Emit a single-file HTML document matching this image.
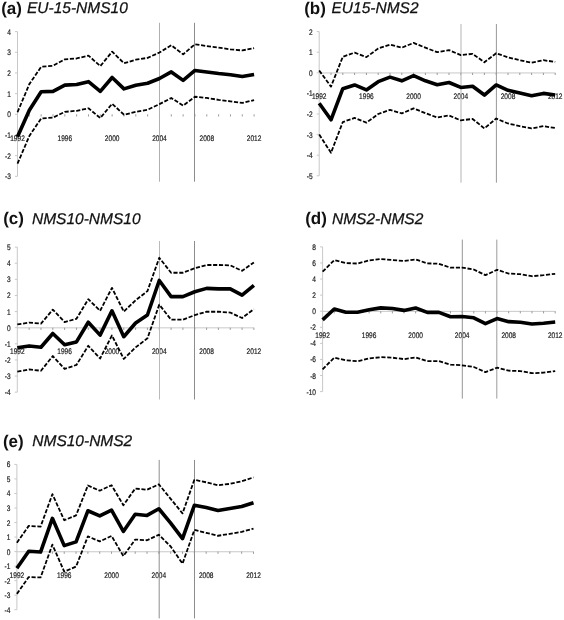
<!DOCTYPE html>
<html><head><meta charset="utf-8"><title>Figure</title>
<style>
html,body{margin:0;padding:0;background:#fff;}
body{width:564px;height:620px;overflow:hidden;}
svg{display:block;filter:grayscale(1) blur(0.35px);}
text{font-family:"Liberation Sans", sans-serif;text-rendering:geometricPrecision;}
.tl{font-size:17.0px;font-weight:bold;fill:#111;}
.tn{font-size:15.5px;font-style:italic;fill:#111;stroke:#111;stroke-width:0.25px;}
.yl{font-size:8.1px;fill:#1a1a1a;stroke:#1a1a1a;stroke-width:0.2px;text-anchor:end;}
.xl{font-size:8.1px;fill:#1a1a1a;stroke:#1a1a1a;stroke-width:0.2px;text-anchor:middle;}
.ax{stroke:#c8c8c8;stroke-width:1;fill:none;}
.tk{stroke:#9a9a9a;stroke-width:1;fill:none;}
.sl{fill:none;stroke:#000;stroke-width:3.6;stroke-linejoin:round;}
.ds{fill:none;stroke:#000;stroke-width:1.8;stroke-dasharray:4.15 1.7;stroke-linejoin:round;}
</style></head>
<body>
<svg width="564" height="620" viewBox="0 0 564 620">
<rect width="564" height="620" fill="#fff"/>
<text x="1.2" y="13.6" class="tl">(a)</text>
<text x="27" y="13.2" class="tn">EU-15-NMS10</text>
<line x1="17.5" y1="31.62" x2="17.5" y2="176.31" class="ax"/>
<line x1="15" y1="31.62" x2="17.5" y2="31.62" class="ax"/>
<text transform="translate(10.9,34.62) scale(0.81,1)" class="yl">4</text>
<line x1="15" y1="52.29" x2="17.5" y2="52.29" class="ax"/>
<text transform="translate(10.9,55.29) scale(0.81,1)" class="yl">3</text>
<line x1="15" y1="72.96" x2="17.5" y2="72.96" class="ax"/>
<text transform="translate(10.9,75.96) scale(0.81,1)" class="yl">2</text>
<line x1="15" y1="93.63" x2="17.5" y2="93.63" class="ax"/>
<text transform="translate(10.9,96.63) scale(0.81,1)" class="yl">1</text>
<line x1="15" y1="114.3" x2="17.5" y2="114.3" class="ax"/>
<text transform="translate(10.9,117.3) scale(0.81,1)" class="yl">0</text>
<line x1="15" y1="134.97" x2="17.5" y2="134.97" class="ax"/>
<text transform="translate(10.9,137.97) scale(0.81,1)" class="yl">-1</text>
<line x1="15" y1="155.64" x2="17.5" y2="155.64" class="ax"/>
<text transform="translate(10.9,158.64) scale(0.81,1)" class="yl">-2</text>
<line x1="15" y1="176.31" x2="17.5" y2="176.31" class="ax"/>
<text transform="translate(10.9,179.31) scale(0.81,1)" class="yl">-3</text>
<line x1="29.33" y1="114.3" x2="29.33" y2="116.5" class="tk"/>
<line x1="41.16" y1="114.3" x2="41.16" y2="116.5" class="tk"/>
<line x1="52.99" y1="114.3" x2="52.99" y2="116.5" class="tk"/>
<line x1="64.82" y1="114.3" x2="64.82" y2="116.5" class="tk"/>
<line x1="76.65" y1="114.3" x2="76.65" y2="116.5" class="tk"/>
<line x1="88.48" y1="114.3" x2="88.48" y2="116.5" class="tk"/>
<line x1="100.31" y1="114.3" x2="100.31" y2="116.5" class="tk"/>
<line x1="112.14" y1="114.3" x2="112.14" y2="116.5" class="tk"/>
<line x1="123.97" y1="114.3" x2="123.97" y2="116.5" class="tk"/>
<line x1="135.8" y1="114.3" x2="135.8" y2="116.5" class="tk"/>
<line x1="147.63" y1="114.3" x2="147.63" y2="116.5" class="tk"/>
<line x1="159.46" y1="114.3" x2="159.46" y2="116.5" class="tk"/>
<line x1="171.29" y1="114.3" x2="171.29" y2="116.5" class="tk"/>
<line x1="183.12" y1="114.3" x2="183.12" y2="116.5" class="tk"/>
<line x1="194.95" y1="114.3" x2="194.95" y2="116.5" class="tk"/>
<line x1="206.78" y1="114.3" x2="206.78" y2="116.5" class="tk"/>
<line x1="218.61" y1="114.3" x2="218.61" y2="116.5" class="tk"/>
<line x1="230.44" y1="114.3" x2="230.44" y2="116.5" class="tk"/>
<line x1="242.27" y1="114.3" x2="242.27" y2="116.5" class="tk"/>
<line x1="254.1" y1="114.3" x2="254.1" y2="116.5" class="tk"/>
<text transform="translate(17.5,140.9) scale(0.81,1)" class="xl">1992</text>
<text transform="translate(64.82,140.9) scale(0.81,1)" class="xl">1996</text>
<text transform="translate(112.14,140.9) scale(0.81,1)" class="xl">2000</text>
<text transform="translate(159.46,140.9) scale(0.81,1)" class="xl">2004</text>
<text transform="translate(206.78,140.9) scale(0.81,1)" class="xl">2008</text>
<text transform="translate(254.1,140.9) scale(0.81,1)" class="xl">2012</text>
<line x1="159.5" y1="22.8" x2="159.5" y2="181.7" stroke="#b0b0b0" stroke-width="1"/>
<line x1="194.5" y1="22.8" x2="194.5" y2="181.7" stroke="#8c8c8c" stroke-width="1"/>
<polyline points="17.5,112.23 29.33,84.12 41.16,66.76 52.99,65.73 64.82,59.32 76.65,58.49 88.48,55.6 100.31,66.14 112.14,51.67 123.97,63.25 135.8,59.73 147.63,57.87 159.46,52.5 171.29,45.26 183.12,54.36 194.95,44.23 206.78,46.09 218.61,47.54 230.44,49.4 242.27,50.43 254.1,48.16" class="ds"/>
<polyline points="17.5,163.7 29.33,136 41.16,118.43 52.99,117.61 64.82,111.82 76.65,110.79 88.48,108.31 100.31,118.02 112.14,103.76 123.97,114.71 135.8,111.82 147.63,109.75 159.46,104.17 171.29,97.97 183.12,105.62 194.95,96.73 206.78,97.97 218.61,99.83 230.44,101.28 242.27,102.93 254.1,100.04" class="ds"/>
<polyline points="17.5,136.83 29.33,110.17 41.16,91.77 52.99,91.36 64.82,85.16 76.65,84.54 88.48,81.64 100.31,91.36 112.14,77.51 123.97,88.88 135.8,85.16 147.63,83.29 159.46,78.54 171.29,71.93 183.12,80.4 194.95,70.48 206.78,71.93 218.61,73.58 230.44,74.82 242.27,76.47 254.1,74.41" class="sl"/>
<text x="304.2" y="13.6" class="tl">(b)</text>
<text x="331.5" y="13.2" class="tn">EU15-NMS2</text>
<line x1="319.2" y1="31.6" x2="319.2" y2="175.8" class="ax"/>
<line x1="316.7" y1="31.6" x2="319.2" y2="31.6" class="ax"/>
<text transform="translate(312.6,34.6) scale(0.81,1)" class="yl">2</text>
<line x1="316.7" y1="52.2" x2="319.2" y2="52.2" class="ax"/>
<text transform="translate(312.6,55.2) scale(0.81,1)" class="yl">1</text>
<line x1="316.7" y1="72.8" x2="319.2" y2="72.8" class="ax"/>
<text transform="translate(312.6,75.8) scale(0.81,1)" class="yl">0</text>
<line x1="316.7" y1="93.4" x2="319.2" y2="93.4" class="ax"/>
<text transform="translate(312.6,96.4) scale(0.81,1)" class="yl">-1</text>
<line x1="316.7" y1="114" x2="319.2" y2="114" class="ax"/>
<text transform="translate(312.6,117) scale(0.81,1)" class="yl">-2</text>
<line x1="316.7" y1="134.6" x2="319.2" y2="134.6" class="ax"/>
<text transform="translate(312.6,137.6) scale(0.81,1)" class="yl">-3</text>
<line x1="316.7" y1="155.2" x2="319.2" y2="155.2" class="ax"/>
<text transform="translate(312.6,158.2) scale(0.81,1)" class="yl">-4</text>
<line x1="316.7" y1="175.8" x2="319.2" y2="175.8" class="ax"/>
<text transform="translate(312.6,178.8) scale(0.81,1)" class="yl">-5</text>
<line x1="319.2" y1="72.95" x2="555.2" y2="72.95" class="ax" stroke-width="1.3"/>
<line x1="331" y1="72.8" x2="331" y2="75" class="tk"/>
<line x1="342.8" y1="72.8" x2="342.8" y2="75" class="tk"/>
<line x1="354.6" y1="72.8" x2="354.6" y2="75" class="tk"/>
<line x1="366.4" y1="72.8" x2="366.4" y2="75" class="tk"/>
<line x1="378.2" y1="72.8" x2="378.2" y2="75" class="tk"/>
<line x1="390" y1="72.8" x2="390" y2="75" class="tk"/>
<line x1="401.8" y1="72.8" x2="401.8" y2="75" class="tk"/>
<line x1="413.6" y1="72.8" x2="413.6" y2="75" class="tk"/>
<line x1="425.4" y1="72.8" x2="425.4" y2="75" class="tk"/>
<line x1="437.2" y1="72.8" x2="437.2" y2="75" class="tk"/>
<line x1="449" y1="72.8" x2="449" y2="75" class="tk"/>
<line x1="460.8" y1="72.8" x2="460.8" y2="75" class="tk"/>
<line x1="472.6" y1="72.8" x2="472.6" y2="75" class="tk"/>
<line x1="484.4" y1="72.8" x2="484.4" y2="75" class="tk"/>
<line x1="496.2" y1="72.8" x2="496.2" y2="75" class="tk"/>
<line x1="508" y1="72.8" x2="508" y2="75" class="tk"/>
<line x1="519.8" y1="72.8" x2="519.8" y2="75" class="tk"/>
<line x1="531.6" y1="72.8" x2="531.6" y2="75" class="tk"/>
<line x1="543.4" y1="72.8" x2="543.4" y2="75" class="tk"/>
<line x1="555.2" y1="72.8" x2="555.2" y2="75" class="tk"/>
<text transform="translate(319.2,98.5) scale(0.81,1)" class="xl">1992</text>
<text transform="translate(366.4,98.5) scale(0.81,1)" class="xl">1996</text>
<text transform="translate(413.6,98.5) scale(0.81,1)" class="xl">2000</text>
<text transform="translate(460.8,98.5) scale(0.81,1)" class="xl">2004</text>
<text transform="translate(508,98.5) scale(0.81,1)" class="xl">2008</text>
<text transform="translate(555.2,98.5) scale(0.81,1)" class="xl">2012</text>
<line x1="461" y1="24" x2="461" y2="182.7" stroke="#b4b4b4" stroke-width="1"/>
<line x1="496.4" y1="24" x2="496.4" y2="182.7" stroke="#999" stroke-width="1"/>
<polyline points="319.2,70.53 331,86.6 342.8,56.73 354.6,52.61 366.4,57.14 378.2,48.49 390,44.58 401.8,47.67 413.6,42.93 425.4,47.67 437.2,52.2 449,50.14 460.8,55.08 472.6,53.85 484.4,62.29 496.2,53.23 508,57.35 519.8,60.23 531.6,62.71 543.4,60.23 555.2,61.88" class="ds"/>
<polyline points="319.2,134.6 331,152.73 342.8,122.03 354.6,117.91 366.4,122.65 378.2,114 390,109.88 401.8,113.38 413.6,108.44 425.4,113.18 437.2,117.5 449,115.44 460.8,120.39 472.6,118.94 484.4,128.42 496.2,118.53 508,123.48 519.8,126.15 531.6,128.42 543.4,126.15 555.2,128.01" class="ds"/>
<polyline points="319.2,103.29 331,119.77 342.8,88.66 354.6,84.95 366.4,89.9 378.2,81.66 390,77.13 401.8,80.83 413.6,75.68 425.4,80.83 437.2,84.75 449,82.48 460.8,87.43 472.6,86.19 484.4,95.05 496.2,84.95 508,90.31 519.8,92.99 531.6,95.67 543.4,93.4 555.2,95.05" class="sl"/>
<text x="3.2" y="223.9" class="tl">(c)</text>
<text x="32" y="223.5" class="tn">NMS10-NMS10</text>
<line x1="17.3" y1="247.1" x2="17.3" y2="392.18" class="ax"/>
<line x1="14.8" y1="247.1" x2="17.3" y2="247.1" class="ax"/>
<text transform="translate(10.7,250.1) scale(0.81,1)" class="yl">5</text>
<line x1="14.8" y1="263.22" x2="17.3" y2="263.22" class="ax"/>
<text transform="translate(10.7,266.22) scale(0.81,1)" class="yl">4</text>
<line x1="14.8" y1="279.34" x2="17.3" y2="279.34" class="ax"/>
<text transform="translate(10.7,282.34) scale(0.81,1)" class="yl">3</text>
<line x1="14.8" y1="295.46" x2="17.3" y2="295.46" class="ax"/>
<text transform="translate(10.7,298.46) scale(0.81,1)" class="yl">2</text>
<line x1="14.8" y1="311.58" x2="17.3" y2="311.58" class="ax"/>
<text transform="translate(10.7,314.58) scale(0.81,1)" class="yl">1</text>
<line x1="14.8" y1="327.7" x2="17.3" y2="327.7" class="ax"/>
<text transform="translate(10.7,330.7) scale(0.81,1)" class="yl">0</text>
<line x1="14.8" y1="343.82" x2="17.3" y2="343.82" class="ax"/>
<text transform="translate(10.7,346.82) scale(0.81,1)" class="yl">-1</text>
<line x1="14.8" y1="359.94" x2="17.3" y2="359.94" class="ax"/>
<text transform="translate(10.7,362.94) scale(0.81,1)" class="yl">-2</text>
<line x1="14.8" y1="376.06" x2="17.3" y2="376.06" class="ax"/>
<text transform="translate(10.7,379.06) scale(0.81,1)" class="yl">-3</text>
<line x1="14.8" y1="392.18" x2="17.3" y2="392.18" class="ax"/>
<text transform="translate(10.7,395.18) scale(0.81,1)" class="yl">-4</text>
<line x1="17.3" y1="327.85" x2="253.9" y2="327.85" class="ax" stroke-width="1.3"/>
<line x1="29.13" y1="327.7" x2="29.13" y2="329.9" class="tk"/>
<line x1="40.96" y1="327.7" x2="40.96" y2="329.9" class="tk"/>
<line x1="52.79" y1="327.7" x2="52.79" y2="329.9" class="tk"/>
<line x1="64.62" y1="327.7" x2="64.62" y2="329.9" class="tk"/>
<line x1="76.45" y1="327.7" x2="76.45" y2="329.9" class="tk"/>
<line x1="88.28" y1="327.7" x2="88.28" y2="329.9" class="tk"/>
<line x1="100.11" y1="327.7" x2="100.11" y2="329.9" class="tk"/>
<line x1="111.94" y1="327.7" x2="111.94" y2="329.9" class="tk"/>
<line x1="123.77" y1="327.7" x2="123.77" y2="329.9" class="tk"/>
<line x1="135.6" y1="327.7" x2="135.6" y2="329.9" class="tk"/>
<line x1="147.43" y1="327.7" x2="147.43" y2="329.9" class="tk"/>
<line x1="159.26" y1="327.7" x2="159.26" y2="329.9" class="tk"/>
<line x1="171.09" y1="327.7" x2="171.09" y2="329.9" class="tk"/>
<line x1="182.92" y1="327.7" x2="182.92" y2="329.9" class="tk"/>
<line x1="194.75" y1="327.7" x2="194.75" y2="329.9" class="tk"/>
<line x1="206.58" y1="327.7" x2="206.58" y2="329.9" class="tk"/>
<line x1="218.41" y1="327.7" x2="218.41" y2="329.9" class="tk"/>
<line x1="230.24" y1="327.7" x2="230.24" y2="329.9" class="tk"/>
<line x1="242.07" y1="327.7" x2="242.07" y2="329.9" class="tk"/>
<line x1="253.9" y1="327.7" x2="253.9" y2="329.9" class="tk"/>
<text transform="translate(17.3,354) scale(0.81,1)" class="xl">1992</text>
<text transform="translate(64.62,354) scale(0.81,1)" class="xl">1996</text>
<text transform="translate(111.94,354) scale(0.81,1)" class="xl">2000</text>
<text transform="translate(159.26,354) scale(0.81,1)" class="xl">2004</text>
<text transform="translate(206.58,354) scale(0.81,1)" class="xl">2008</text>
<text transform="translate(253.9,354) scale(0.81,1)" class="xl">2012</text>
<line x1="159.5" y1="241" x2="159.5" y2="399.5" stroke="#bababa" stroke-width="1"/>
<line x1="194.5" y1="241" x2="194.5" y2="399.5" stroke="#8c8c8c" stroke-width="1"/>
<polyline points="17.3,324.48 29.13,322.54 40.96,323.67 52.79,309.65 64.62,322.06 76.45,318.83 88.28,299.17 100.11,310.77 111.94,287.88 123.77,311.58 135.6,300.3 147.43,291.11 159.26,257.74 171.09,272.73 182.92,272.73 194.75,268.22 206.58,264.99 218.41,264.99 230.24,265.32 242.07,270.8 253.9,262.41" class="ds"/>
<polyline points="17.3,371.55 29.13,369.45 40.96,370.74 52.79,356.07 64.62,368.97 76.45,364.94 88.28,345.75 100.11,358.49 111.94,335.44 123.77,358.97 135.6,347.37 147.43,338.34 159.26,304.65 171.09,319.64 182.92,319.64 194.75,315.13 206.58,311.74 218.41,311.74 230.24,312.55 242.07,318.03 253.9,309.16" class="ds"/>
<polyline points="17.3,347.69 29.13,345.92 40.96,347.21 52.79,333.5 64.62,344.79 76.45,341.89 88.28,322.22 100.11,335.12 111.94,310.77 123.77,336.73 135.6,323.03 147.43,314.97 159.26,280.47 171.09,296.59 182.92,296.59 194.75,291.75 206.58,288.37 218.41,288.85 230.24,288.85 242.07,295.14 253.9,285.3" class="sl"/>
<text x="305.2" y="223.9" class="tl">(d)</text>
<text x="332" y="223.5" class="tn">NMS2-NMS2</text>
<line x1="322.6" y1="246.88" x2="322.6" y2="391.6" class="ax"/>
<line x1="320.1" y1="246.88" x2="322.6" y2="246.88" class="ax"/>
<text transform="translate(316,249.88) scale(0.81,1)" class="yl">8</text>
<line x1="320.1" y1="262.96" x2="322.6" y2="262.96" class="ax"/>
<text transform="translate(316,265.96) scale(0.81,1)" class="yl">6</text>
<line x1="320.1" y1="279.04" x2="322.6" y2="279.04" class="ax"/>
<text transform="translate(316,282.04) scale(0.81,1)" class="yl">4</text>
<line x1="320.1" y1="295.12" x2="322.6" y2="295.12" class="ax"/>
<text transform="translate(316,298.12) scale(0.81,1)" class="yl">2</text>
<line x1="320.1" y1="311.2" x2="322.6" y2="311.2" class="ax"/>
<text transform="translate(316,314.2) scale(0.81,1)" class="yl">0</text>
<line x1="320.1" y1="327.28" x2="322.6" y2="327.28" class="ax"/>
<text transform="translate(316,330.28) scale(0.81,1)" class="yl">-2</text>
<line x1="320.1" y1="343.36" x2="322.6" y2="343.36" class="ax"/>
<text transform="translate(316,346.36) scale(0.81,1)" class="yl">-4</text>
<line x1="320.1" y1="359.44" x2="322.6" y2="359.44" class="ax"/>
<text transform="translate(316,362.44) scale(0.81,1)" class="yl">-6</text>
<line x1="320.1" y1="375.52" x2="322.6" y2="375.52" class="ax"/>
<text transform="translate(316,378.52) scale(0.81,1)" class="yl">-8</text>
<line x1="320.1" y1="391.6" x2="322.6" y2="391.6" class="ax"/>
<text transform="translate(316,394.6) scale(0.81,1)" class="yl">-10</text>
<line x1="322.6" y1="311.35" x2="555.2" y2="311.35" class="ax" stroke-width="1.3"/>
<line x1="334.23" y1="311.2" x2="334.23" y2="313.4" class="tk"/>
<line x1="345.86" y1="311.2" x2="345.86" y2="313.4" class="tk"/>
<line x1="357.49" y1="311.2" x2="357.49" y2="313.4" class="tk"/>
<line x1="369.12" y1="311.2" x2="369.12" y2="313.4" class="tk"/>
<line x1="380.75" y1="311.2" x2="380.75" y2="313.4" class="tk"/>
<line x1="392.38" y1="311.2" x2="392.38" y2="313.4" class="tk"/>
<line x1="404.01" y1="311.2" x2="404.01" y2="313.4" class="tk"/>
<line x1="415.64" y1="311.2" x2="415.64" y2="313.4" class="tk"/>
<line x1="427.27" y1="311.2" x2="427.27" y2="313.4" class="tk"/>
<line x1="438.9" y1="311.2" x2="438.9" y2="313.4" class="tk"/>
<line x1="450.53" y1="311.2" x2="450.53" y2="313.4" class="tk"/>
<line x1="462.16" y1="311.2" x2="462.16" y2="313.4" class="tk"/>
<line x1="473.79" y1="311.2" x2="473.79" y2="313.4" class="tk"/>
<line x1="485.42" y1="311.2" x2="485.42" y2="313.4" class="tk"/>
<line x1="497.05" y1="311.2" x2="497.05" y2="313.4" class="tk"/>
<line x1="508.68" y1="311.2" x2="508.68" y2="313.4" class="tk"/>
<line x1="520.31" y1="311.2" x2="520.31" y2="313.4" class="tk"/>
<line x1="531.94" y1="311.2" x2="531.94" y2="313.4" class="tk"/>
<line x1="543.57" y1="311.2" x2="543.57" y2="313.4" class="tk"/>
<line x1="555.2" y1="311.2" x2="555.2" y2="313.4" class="tk"/>
<text transform="translate(322.6,338) scale(0.81,1)" class="xl">1992</text>
<text transform="translate(369.12,338) scale(0.81,1)" class="xl">1996</text>
<text transform="translate(415.64,338) scale(0.81,1)" class="xl">2000</text>
<text transform="translate(462.16,338) scale(0.81,1)" class="xl">2004</text>
<text transform="translate(508.68,338) scale(0.81,1)" class="xl">2008</text>
<text transform="translate(555.2,338) scale(0.81,1)" class="xl">2012</text>
<line x1="462.3" y1="239.6" x2="462.3" y2="398.6" stroke="#959595" stroke-width="1"/>
<line x1="496.8" y1="239.6" x2="496.8" y2="398.6" stroke="#9c9c9c" stroke-width="1"/>
<polyline points="322.6,271.72 334.23,260.15 345.86,263.04 357.49,263.52 369.12,260.39 380.75,259.02 392.38,260.07 404.01,261.03 415.64,259.42 427.27,263.36 438.9,263.76 450.53,267.7 462.16,267.62 473.79,269.55 485.42,275.18 497.05,269.79 508.68,273.57 520.31,274.22 531.94,276.23 543.57,275.18 555.2,273.81" class="ds"/>
<polyline points="322.6,369.33 334.23,357.67 345.86,360.24 357.49,361.29 369.12,358.48 380.75,357.19 392.38,357.67 404.01,359.12 415.64,357.35 427.27,361.13 438.9,361.13 450.53,364.67 462.16,365.31 473.79,367 485.42,372.14 497.05,367.72 508.68,370.7 520.31,371.1 531.94,373.19 543.57,372.63 555.2,371.1" class="ds"/>
<polyline points="322.6,319.88 334.23,309.03 345.86,312.25 357.49,312.25 369.12,309.75 380.75,307.9 392.38,308.47 404.01,310.4 415.64,308.06 427.27,312.41 438.9,312.41 450.53,316.75 462.16,316.51 473.79,317.79 485.42,323.66 497.05,318.6 508.68,321.65 520.31,322.21 531.94,324.06 543.57,323.18 555.2,321.97" class="sl"/>
<text x="2.9" y="446.8" class="tl">(e)</text>
<text x="32.3" y="446.4" class="tn">NMS10-NMS2</text>
<line x1="16.9" y1="464.42" x2="16.9" y2="609.72" class="ax"/>
<line x1="14.4" y1="464.42" x2="16.9" y2="464.42" class="ax"/>
<text transform="translate(10.3,467.42) scale(0.81,1)" class="yl">6</text>
<line x1="14.4" y1="478.95" x2="16.9" y2="478.95" class="ax"/>
<text transform="translate(10.3,481.95) scale(0.81,1)" class="yl">5</text>
<line x1="14.4" y1="493.48" x2="16.9" y2="493.48" class="ax"/>
<text transform="translate(10.3,496.48) scale(0.81,1)" class="yl">4</text>
<line x1="14.4" y1="508.01" x2="16.9" y2="508.01" class="ax"/>
<text transform="translate(10.3,511.01) scale(0.81,1)" class="yl">3</text>
<line x1="14.4" y1="522.54" x2="16.9" y2="522.54" class="ax"/>
<text transform="translate(10.3,525.54) scale(0.81,1)" class="yl">2</text>
<line x1="14.4" y1="537.07" x2="16.9" y2="537.07" class="ax"/>
<text transform="translate(10.3,540.07) scale(0.81,1)" class="yl">1</text>
<line x1="14.4" y1="551.6" x2="16.9" y2="551.6" class="ax"/>
<text transform="translate(10.3,554.6) scale(0.81,1)" class="yl">0</text>
<line x1="14.4" y1="566.13" x2="16.9" y2="566.13" class="ax"/>
<text transform="translate(10.3,569.13) scale(0.81,1)" class="yl">-1</text>
<line x1="14.4" y1="580.66" x2="16.9" y2="580.66" class="ax"/>
<text transform="translate(10.3,583.66) scale(0.81,1)" class="yl">-2</text>
<line x1="14.4" y1="595.19" x2="16.9" y2="595.19" class="ax"/>
<text transform="translate(10.3,598.19) scale(0.81,1)" class="yl">-3</text>
<line x1="14.4" y1="609.72" x2="16.9" y2="609.72" class="ax"/>
<text transform="translate(10.3,612.72) scale(0.81,1)" class="yl">-4</text>
<line x1="16.9" y1="551.75" x2="253.5" y2="551.75" class="ax" stroke-width="1.3"/>
<line x1="28.73" y1="551.6" x2="28.73" y2="553.8" class="tk"/>
<line x1="40.56" y1="551.6" x2="40.56" y2="553.8" class="tk"/>
<line x1="52.39" y1="551.6" x2="52.39" y2="553.8" class="tk"/>
<line x1="64.22" y1="551.6" x2="64.22" y2="553.8" class="tk"/>
<line x1="76.05" y1="551.6" x2="76.05" y2="553.8" class="tk"/>
<line x1="87.88" y1="551.6" x2="87.88" y2="553.8" class="tk"/>
<line x1="99.71" y1="551.6" x2="99.71" y2="553.8" class="tk"/>
<line x1="111.54" y1="551.6" x2="111.54" y2="553.8" class="tk"/>
<line x1="123.37" y1="551.6" x2="123.37" y2="553.8" class="tk"/>
<line x1="135.2" y1="551.6" x2="135.2" y2="553.8" class="tk"/>
<line x1="147.03" y1="551.6" x2="147.03" y2="553.8" class="tk"/>
<line x1="158.86" y1="551.6" x2="158.86" y2="553.8" class="tk"/>
<line x1="170.69" y1="551.6" x2="170.69" y2="553.8" class="tk"/>
<line x1="182.52" y1="551.6" x2="182.52" y2="553.8" class="tk"/>
<line x1="194.35" y1="551.6" x2="194.35" y2="553.8" class="tk"/>
<line x1="206.18" y1="551.6" x2="206.18" y2="553.8" class="tk"/>
<line x1="218.01" y1="551.6" x2="218.01" y2="553.8" class="tk"/>
<line x1="229.84" y1="551.6" x2="229.84" y2="553.8" class="tk"/>
<line x1="241.67" y1="551.6" x2="241.67" y2="553.8" class="tk"/>
<line x1="253.5" y1="551.6" x2="253.5" y2="553.8" class="tk"/>
<text transform="translate(16.9,578.2) scale(0.81,1)" class="xl">1992</text>
<text transform="translate(64.22,578.2) scale(0.81,1)" class="xl">1996</text>
<text transform="translate(111.54,578.2) scale(0.81,1)" class="xl">2000</text>
<text transform="translate(158.86,578.2) scale(0.81,1)" class="xl">2004</text>
<text transform="translate(206.18,578.2) scale(0.81,1)" class="xl">2008</text>
<text transform="translate(253.5,578.2) scale(0.81,1)" class="xl">2012</text>
<line x1="159.2" y1="459.9" x2="159.2" y2="618.4" stroke="#8e8e8e" stroke-width="1"/>
<line x1="194.5" y1="459.9" x2="194.5" y2="618.4" stroke="#8c8c8c" stroke-width="1"/>
<polyline points="16.9,542.74 28.73,525.88 40.56,526.61 52.39,494.21 64.22,520.22 76.05,515.42 87.88,485.49 99.71,490.72 111.54,485.2 123.37,505.25 135.2,488.54 147.03,489.7 158.86,484.33 170.69,498.86 182.52,513.39 194.35,479.82 206.18,482.29 218.01,485.2 229.84,483.89 241.67,481.27 253.5,477.35" class="ds"/>
<polyline points="16.9,593.88 28.73,577.03 40.56,577.46 52.39,544.63 64.22,571.65 76.05,566.57 87.88,536.34 99.71,541.43 111.54,535.91 123.37,556.1 135.2,539.54 147.03,540.27 158.86,534.75 170.69,546.51 182.52,563.66 194.35,529.95 206.18,532.86 218.01,535.76 229.84,533.87 241.67,531.84 253.5,528.64" class="ds"/>
<polyline points="16.9,568.16 28.73,551.31 40.56,552.04 52.39,518.33 64.22,545.64 76.05,541.86 87.88,510.77 99.71,515.86 111.54,510.04 123.37,531.4 135.2,514.26 147.03,515.42 158.86,508.74 170.69,523.12 182.52,538.67 194.35,505.25 206.18,507.57 218.01,510.48 229.84,508.45 241.67,506.56 253.5,502.78" class="sl"/>
</svg>
</body></html>
